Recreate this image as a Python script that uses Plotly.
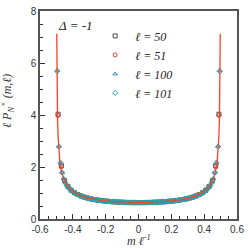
import plotly.graph_objects as go

# ---- data ----
# theory curve (positive half, mirrored by symmetry)
curve_x_half = [0.0, 0.05, 0.10, 0.15, 0.20, 0.25, 0.30, 0.35, 0.40, 0.42, 0.44, 0.46,
                0.47, 0.48, 0.485, 0.49, 0.493, 0.495, 0.4965, 0.4975, 0.498]
curve_y_half = [0.637, 0.640, 0.650, 0.667, 0.695, 0.735, 0.796, 0.891, 1.061, 1.173, 1.340,
                1.624, 1.866, 2.274, 2.619, 3.199, 3.818, 4.513, 5.390, 6.374, 7.124]

x50_half = [0.01, 0.03, 0.05, 0.07, 0.09, 0.11, 0.13, 0.15, 0.17, 0.19, 0.21, 0.23, 0.25,
            0.27, 0.29, 0.31, 0.33, 0.35, 0.37, 0.39, 0.41, 0.43, 0.45, 0.47, 0.49]
y50_half = [0.630, 0.631, 0.633, 0.636, 0.640, 0.646, 0.652, 0.660, 0.670, 0.681, 0.694,
            0.709, 0.727, 0.748, 0.773, 0.803, 0.839, 0.883, 0.939, 1.011, 1.108, 1.248,
            1.470, 2.050, 4.030]
y51_half = [0.632, 0.633, 0.635, 0.638, 0.642, 0.648, 0.654, 0.662, 0.672, 0.683, 0.696,
            0.711, 0.729, 0.750, 0.775, 0.805, 0.841, 0.885, 0.941, 1.014, 1.111, 1.252,
            1.480, 2.000, 3.980]

x100_half = [0.005, 0.015, 0.025, 0.035, 0.045, 0.055, 0.065, 0.075, 0.085, 0.095,
             0.105, 0.115, 0.125, 0.135, 0.145, 0.155, 0.165, 0.175, 0.185, 0.195,
             0.205, 0.215, 0.225, 0.235, 0.245, 0.255, 0.265, 0.275, 0.285, 0.295,
             0.305, 0.315, 0.325, 0.335, 0.345, 0.355, 0.365, 0.375, 0.385, 0.395,
             0.405, 0.415, 0.425, 0.435, 0.445, 0.455, 0.465, 0.475, 0.485, 0.495]
y100_half = [0.630, 0.630, 0.631, 0.632, 0.633, 0.634, 0.636, 0.637, 0.640, 0.642,
             0.645, 0.648, 0.651, 0.655, 0.659, 0.663, 0.668, 0.673, 0.679, 0.685,
             0.691, 0.698, 0.706, 0.714, 0.723, 0.733, 0.744, 0.755, 0.768, 0.781,
             0.796, 0.812, 0.830, 0.850, 0.871, 0.896, 0.923, 0.954, 0.990, 1.030,
             1.077, 1.133, 1.200, 1.283, 1.390, 1.535, 1.780, 2.150, 2.800, 5.720]
y101_half = [0.631, 0.631, 0.632, 0.633, 0.634, 0.635, 0.637, 0.638, 0.641, 0.643,
             0.646, 0.649, 0.652, 0.656, 0.660, 0.664, 0.669, 0.674, 0.680, 0.686,
             0.692, 0.699, 0.707, 0.715, 0.724, 0.734, 0.745, 0.756, 0.769, 0.782,
             0.797, 0.813, 0.831, 0.851, 0.872, 0.897, 0.924, 0.955, 0.992, 1.032,
             1.079, 1.135, 1.203, 1.287, 1.395, 1.540, 1.790, 2.170, 2.780, 5.680]

x_tickvals = [-0.6, -0.4, -0.2, 0.0, 0.2, 0.4, 0.6]
x_ticktext = ["-0.6", "-0.4", "-0.2", "0", "0.2", "0.4", "0.6"]
y_tickvals = [0, 2, 4, 6, 8]
y_ticktext = ["0", "2", "4", "6", "8"]


def mirror(xs, ys):
    return ([-v for v in reversed(xs)] + list(xs), list(reversed(ys)) + list(ys))


cx, cy = mirror(curve_x_half, curve_y_half)
x50, y50 = mirror(x50_half, y50_half)
_, y51 = mirror(x50_half, y51_half)
x100, y100 = mirror(x100_half, y100_half)
_, y101 = mirror(x100_half, y101_half)

fig = go.Figure()

series = [
    ("<i>ℓ = 50</i>", x50, y50, "square-open", "#4a4a4a"),
    ("<i>ℓ = 51</i>", x50, y51, "circle-open", "#d9432c"),
    ("<i>ℓ = 100</i>", x100, y100, "triangle-up-open", "#3f7fbf"),
    ("<i>ℓ = 101</i>", x100, y101, "diamond-open", "#22aaaa"),
]
for name, xs, ys, sym, col in series:
    fig.add_trace(go.Scatter(x=xs, y=ys, mode="markers", name=name,
                             marker=dict(symbol=sym, size=4, color=col,
                                         line=dict(width=1, color=col))))

fig.add_trace(go.Scatter(x=cx, y=cy, mode="lines", showlegend=False,
                         line=dict(color="#f2452a", width=1.3)))

axis_common = dict(showgrid=False, zeroline=False, showline=True, mirror=True,
                   linecolor="#555555", linewidth=1.5, ticks="inside",
                   tickcolor="#333333", ticklen=5, tickwidth=1,
                   tickfont=dict(family="Liberation Sans, Arial", size=10, color="#333333"))

fig.update_xaxes(range=[-0.6, 0.6], tickmode="array", tickvals=x_tickvals,
                 ticktext=x_ticktext,
                 minor=dict(ticks="inside", dtick=0.05, ticklen=3, tickcolor="#333333"),
                 **axis_common)
fig.update_yaxes(range=[0, 8], tickmode="array", tickvals=y_tickvals,
                 ticktext=y_ticktext,
                 minor=dict(ticks="inside", dtick=0.5, ticklen=3, tickcolor="#333333"),
                 **axis_common)

fig.update_layout(
    width=249, height=249, autosize=False,
    margin=dict(l=40, r=11, t=5, b=30),
    plot_bgcolor="white", paper_bgcolor="white",
    legend=dict(x=0.28, y=0.95, xanchor="left", yanchor="top",
                bgcolor="rgba(0,0,0,0)", itemwidth=30, tracegroupgap=0,
                font=dict(family="Liberation Serif, Times New Roman", size=12,
                          color="#222222")),
    annotations=[
        dict(text="<i>Δ = -1</i>", x=0.08, y=0.93, xref="paper", yref="paper",
             xanchor="left", yanchor="middle", showarrow=False,
             font=dict(family="Liberation Serif, Times New Roman", size=13, color="#222222")),
        dict(text="<i>m ℓ<sup>-1</sup></i>", x=0.5, y=-0.105, xref="paper", yref="paper",
             xanchor="center", yanchor="middle", showarrow=False,
             font=dict(family="Liberation Serif, Times New Roman", size=12, color="#333333")),
        dict(text="<i>ℓ P<sub>N</sub><sup>×</sup> (m,ℓ)</i>", x=-0.165, y=0.57,
             xref="paper", yref="paper", xanchor="center", yanchor="middle",
             textangle=-90, showarrow=False,
             font=dict(family="Liberation Serif, Times New Roman", size=12, color="#333333")),
    ],
)

fig.write_html("out.html", config={"responsive": False, "displayModeBar": False},
               post_script="document.body.style.margin='0';document.body.style.overflow='hidden';")
